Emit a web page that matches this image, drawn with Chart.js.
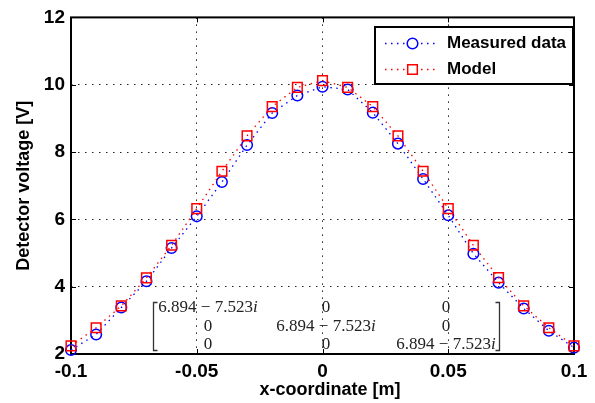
<!DOCTYPE html>
<html><head><meta charset="utf-8">
<script src="https://cdn.jsdelivr.net/npm/chart.js@4/dist/chart.umd.min.js"></script>
<style>html,body{margin:0;padding:0;background:#fff;}canvas{display:block;}</style>
</head><body>
<canvas id="c" width="595" height="403"></canvas>
<script>
const xValues = [-0.1,-0.09,-0.08,-0.07,-0.06,-0.05,-0.04,-0.03,-0.02,-0.01,0,0.01,0.02,0.03,0.04,0.05,0.06,0.07,0.08,0.09,0.1];
const measured = [2.12,2.58,3.38,4.16,5.15,6.09,7.11,8.21,9.16,9.68,9.94,9.86,9.17,8.25,7.20,6.12,4.98,4.12,3.35,2.69,2.19];
const model = [2.24,2.78,3.43,4.26,5.23,6.32,7.43,8.48,9.35,9.92,10.12,9.92,9.35,8.48,7.43,6.32,5.23,4.27,3.43,2.78,2.24];
const xTicks = [-0.1,-0.05,0,0.05,0.1];
const xTickLabels = ['-0.1','-0.05','0','0.05','0.1'];
const yTicks = [2,4,6,8,10,12];
const yTickLabels = ['2','4','6','8','10','12'];
const seriesNames = ['Measured data','Model'];
const xTitle = 'x-coordinate [m]';
const yTitle = 'Detector voltage [V]';
const matrixRows = [
  ['6.894 \u2212 7.523i','0','0'],
  ['0','6.894 \u2212 7.523i','0'],
  ['0','0','6.894 \u2212 7.523i']
];

const SANS = '"Liberation Sans", Arial, sans-serif';
const SERIF = '"Liberation Serif", "Times New Roman", serif';

function pts(ys){ return xValues.map((x,i)=>({x:x,y:ys[i]})); }

const decor = {
  id:'decor',
  beforeDatasetsDraw(chart){
    const {ctx, chartArea:a} = chart;
    const xs = chart.scales.x, ys = chart.scales.y;
    ctx.save();
    ctx.strokeStyle = '#000';
    ctx.lineWidth = 1;
    ctx.beginPath();
    xTicks.forEach(v=>{const p=Math.round(xs.getPixelForValue(v))+0.5;
      ctx.moveTo(p,a.bottom); ctx.lineTo(p,a.bottom-5);
      ctx.moveTo(p,a.top); ctx.lineTo(p,a.top+5);});
    yTicks.forEach(v=>{const p=Math.round(ys.getPixelForValue(v))+0.5;
      ctx.moveTo(a.left,p); ctx.lineTo(a.left+5,p);
      ctx.moveTo(a.right,p); ctx.lineTo(a.right-5,p);});
    ctx.stroke();
    ctx.lineWidth = 2;
    ctx.strokeRect(a.left, a.top, a.right-a.left, a.bottom-a.top);
    ctx.restore();
  },
  afterDraw(chart){
    const {ctx} = chart;
    // x axis title (slightly right of centre, as in the reference)
    ctx.save();
    ctx.fillStyle = '#000';
    ctx.font = 'bold 18px ' + SANS;
    ctx.textAlign = 'center'; ctx.textBaseline = 'middle';
    ctx.fillText(xTitle, 330, 390);
    ctx.restore();

    // matrix annotation
    ctx.save();
    ctx.fillStyle = '#222';
    ctx.textBaseline = 'middle';
    const colCenters = [208, 326, 446];
    const rowY = [308, 326.5, 345];
    const fontR = '17px ' + SERIF, fontI = 'italic 17px ' + SERIF;
    matrixRows.forEach((row,r)=>{
      row.forEach((s,c)=>{
        let main = s, tail = '';
        if (s.endsWith('i')) { main = s.slice(0,-1); tail = 'i'; }
        ctx.font = fontR; const w1 = ctx.measureText(main).width;
        ctx.font = fontI; const w2 = tail ? ctx.measureText(tail).width : 0;
        const x0 = colCenters[c] - (w1+w2)/2;
        ctx.textAlign = 'left';
        ctx.font = fontR; ctx.fillText(main, x0, rowY[r]);
        if (tail) { ctx.font = fontI; ctx.fillText(tail, x0+w1, rowY[r]); }
      });
    });
    ctx.strokeStyle = '#333'; ctx.lineWidth = 1.3;
    ctx.beginPath();
    ctx.moveTo(157.5,302.5); ctx.lineTo(153.5,302.5); ctx.lineTo(153.5,350.5); ctx.lineTo(157.5,350.5);
    ctx.moveTo(495.5,302.5); ctx.lineTo(499.5,302.5); ctx.lineTo(499.5,350.5); ctx.lineTo(495.5,350.5);
    ctx.stroke();
    ctx.restore();

    // legend
    ctx.save();
    const bx=375, by=27, bw=198, bh=57;
    ctx.fillStyle = '#fff';
    ctx.fillRect(bx,by,bw,bh);
    ctx.strokeStyle = '#000'; ctx.lineWidth = 2;
    ctx.strokeRect(bx,by,bw,bh);
    const rows = [43.5, 69.5];
    chart.data.datasets.forEach((ds,i)=>{
      const y = rows[i];
      ctx.strokeStyle = ds.borderColor;
      ctx.lineWidth = ds.borderWidth;
      ctx.setLineDash(ds.borderDash);
      ctx.beginPath(); ctx.moveTo(385,y); ctx.lineTo(438,y); ctx.stroke();
      ctx.setLineDash([]);
      ctx.lineWidth = ds.pointBorderWidth;
      ctx.beginPath();
      if (ds.pointStyle === 'circle') { ctx.arc(412.5,y,ds.pointRadius,0,Math.PI*2); }
      else { const h = ds.pointRadius*Math.SQRT1_2; ctx.rect(412.5-h,y-h,2*h,2*h); }
      ctx.fillStyle='#fff'; ctx.fill();
      ctx.stroke();
      ctx.fillStyle = '#000';
      ctx.font = 'bold 17px ' + SANS;
      ctx.textAlign = 'left'; ctx.textBaseline = 'middle';
      ctx.fillText(ds.label, 447, y);
    });
    ctx.restore();
  }
};

new Chart(document.getElementById('c'), {
  type:'line',
  data:{
    datasets:[
      {label:seriesNames[0], data:pts(measured), borderColor:'#0000ff', backgroundColor:'rgba(0,0,0,0)',
       borderWidth:1.3, borderDash:[1.5,4.5], pointStyle:'circle', pointRadius:5.3, pointHoverRadius:5.3,
       pointBorderWidth:1.5, pointBackgroundColor:'rgba(0,0,0,0)', pointBorderColor:'#0000ff',
       tension:0, fill:false, clip:false, order:2},
      {label:seriesNames[1], data:pts(model), borderColor:'#ff0000', backgroundColor:'rgba(0,0,0,0)',
       borderWidth:1.3, borderDash:[1.5,4.5], pointStyle:'rect', pointRadius:6.8, pointHoverRadius:6.8,
       pointBorderWidth:1.5, pointBackgroundColor:'rgba(0,0,0,0)', pointBorderColor:'#ff0000',
       tension:0, fill:false, clip:false, order:1}
    ]
  },
  options:{
    responsive:false, animation:false, devicePixelRatio:1, events:[],
    layout:{padding:{top:16,right:21,bottom:0,left:0}},
    plugins:{legend:{display:false}, tooltip:{enabled:false}, title:{display:false}},
    scales:{
      x:{type:'linear', min:-0.1, max:0.1,
        afterBuildTicks:s=>{s.ticks = xTicks.map(v=>({value:v}));},
        afterFit:s=>{s.height = 49;},
        ticks:{padding:6, color:'#000', font:{family:SANS,size:19,weight:'bold'},
          maxRotation:0, autoSkip:false,
          callback:(v)=>{const i = xTicks.findIndex(t=>Math.abs(t-v)<1e-9); return i>=0?xTickLabels[i]:'';}},
        grid:{color:'#222', lineWidth:1, drawTicks:false},
        border:{display:false, dash:[1.5,5.5]},
        title:{display:false, text:xTitle}
      },
      y:{type:'linear', min:2, max:12,
        afterBuildTicks:s=>{s.ticks = yTicks.map(v=>({value:v}));},
        afterFit:s=>{s.width = 71;},
        ticks:{padding:6, color:'#000', font:{family:SANS,size:19,weight:'bold'},
          callback:(v)=>{const i = yTicks.indexOf(v); return i>=0?yTickLabels[i]:'';}},
        grid:{color:'#222', lineWidth:1, drawTicks:false},
        border:{display:false, dash:[1.5,5.5]},
        title:{display:true, text:yTitle, color:'#000', font:{family:SANS,size:18,weight:'bold'}, padding:{top:13,bottom:0}}
      }
    }
  },
  plugins:[decor]
});
</script>
</body></html>
